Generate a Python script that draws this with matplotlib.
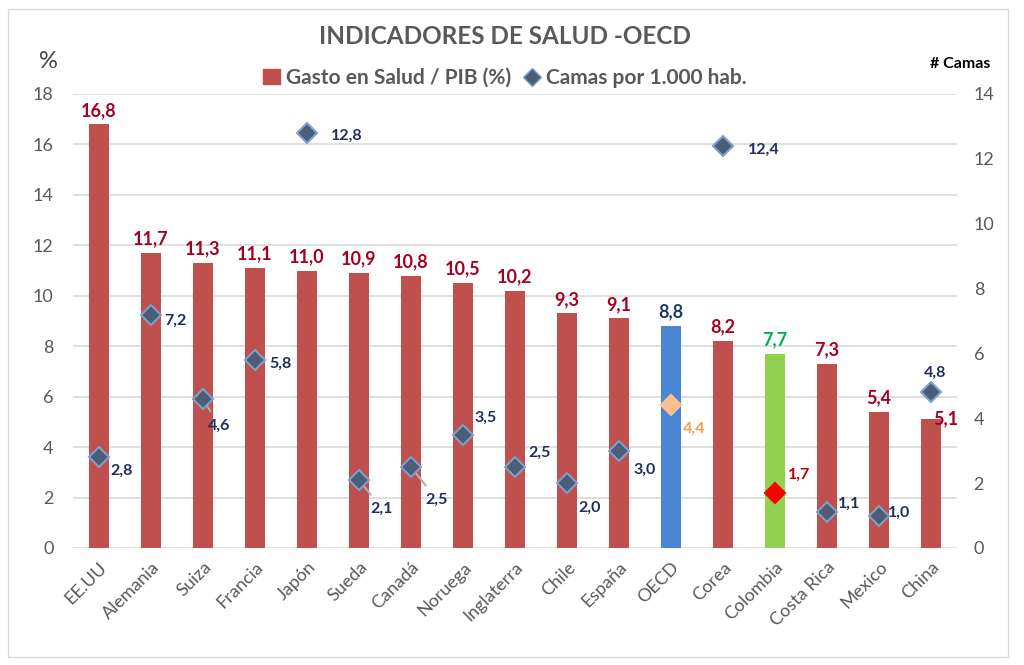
import matplotlib.pyplot as plt
from matplotlib.lines import Line2D
from matplotlib.patches import Rectangle, Patch

plt.rcParams['font.family'] = ['Lato', 'DejaVu Sans']

paises = ['EE.UU', 'Alemania', 'Suiza', 'Francia', 'Japón', 'Sueda', 'Canadá',
          'Noruega', 'Inglaterra', 'Chile', 'España', 'OECD', 'Corea',
          'Colombia', 'Costa Rica', 'Mexico', 'China']
gasto = [16.8, 11.7, 11.3, 11.1, 11.0, 10.9, 10.8, 10.5, 10.2, 9.3, 9.1,
         8.8, 8.2, 7.7, 7.3, 5.4, 5.1]
camas = [2.8, 7.2, 4.6, 5.8, 12.8, 2.1, 2.5, 3.5, 2.5, 2.0, 3.0,
         4.4, 12.4, 1.7, 1.1, 1.0, 4.8]

# colores por barra / diamante / etiqueta
rojo = '#C0504D'
bar_colors = [rojo] * len(paises)
bar_colors[11] = '#4A86D4'
bar_colors[13] = '#92D050'
bar_lbl_colors = ['#A50021'] * len(paises)
bar_lbl_colors[11] = '#1F3864'
bar_lbl_colors[13] = '#00B050'
dia_colors = ['#4A5E78'] * len(paises)
dia_colors[11] = '#FAC090'
dia_colors[13] = '#FF0000'
dia_edges = ['#7F9FC8'] * len(paises)
dia_edges[11] = '#FAC090'
dia_edges[13] = '#FF0000'
cam_lbl_colors = ['#1F2F5A'] * len(paises)
cam_lbl_colors[11] = '#F0A050'
cam_lbl_colors[13] = '#C00000'

# desplazamientos de etiquetas (px)
cam_off = [(23, -14), (24, -6), (16, -27), (25, -4), (40, -3), (23, -29),
           (26, -33), (23, 17), (25, 14), (23, -25), (26, -19), (23, -23),
           (41, -4), (24, 18), (22, 9), (20, 3), (4, 20)]
leader = [2, 5, 6]

fig = plt.figure(figsize=(10.24, 6.65), dpi=100)
fig.patches.append(Rectangle((8 / 1024, 8 / 665), 1000 / 1024, 648 / 665,
                             transform=fig.transFigure, fill=False,
                             edgecolor='#D9D9D9', linewidth=1))
ax = fig.add_axes([73 / 1024, 117 / 665, 884 / 1024, 454 / 665])
ax2 = ax.twinx()

x = list(range(len(paises)))
ax.bar(x, gasto, width=0.38, color=bar_colors, zorder=2)
ax.set_xlim(-0.5, len(paises) - 0.5)
ax.set_ylim(0, 18)
ax.set_yticks(range(0, 19, 2))
ax2.set_ylim(0, 14)
ax2.set_yticks(range(0, 15, 2))
ax.grid(axis='y', color='#D9D9D9', linewidth=1.2, zorder=0)
ax.set_axisbelow(True)
for a in (ax, ax2):
    for s in a.spines.values():
        s.set_visible(False)
    a.tick_params(length=0, labelsize=13, labelcolor='#595959')
ax.tick_params(axis='y', pad=14)
ax2.tick_params(axis='y', pad=12)
ax.set_xticks(x)
ax.set_xticklabels(paises, rotation=45, ha='right', rotation_mode='anchor',
                   fontsize=13, color='#595959')
ax.tick_params(axis='x', pad=8)

for i, v in enumerate(gasto):
    off = (15, 1) if i == len(gasto) - 1 else (0, 14)
    ax.annotate(f'{v:.1f}'.replace('.', ','), (i, v),
                xytext=(off[0] * 0.72, off[1] * 0.72), textcoords='offset points',
                ha='center', va='center', fontsize=13, fontweight='bold',
                color=bar_lbl_colors[i])

for i, v in enumerate(camas):
    ax2.plot(i, v, marker='D', markersize=10.5, color=dia_colors[i],
             markeredgecolor=dia_edges[i], markeredgewidth=1.5, zorder=4,
             linestyle='none')
    dx, dy = cam_off[i]
    props = None
    if i in leader:
        props = dict(arrowstyle='-', color='#B0B0B0', lw=1.5,
                     shrinkA=4, shrinkB=0)
    ax2.annotate(f'{v:.1f}'.replace('.', ','), (i, v),
                 xytext=(dx * 0.72, dy * 0.72), textcoords='offset points',
                 ha='center', va='center', fontsize=11.5, fontweight='bold',
                 color=cam_lbl_colors[i], arrowprops=props, zorder=3)

fig.text(505 / 1024, 1 - 37 / 665, 'INDICADORES DE SALUD -OECD', ha='center',
         va='center', fontsize=17.5, fontweight='bold', color='#595959')
fig.text(48 / 1024, 1 - 62 / 665, '%', ha='center', va='center',
         fontsize=17, color='#404040')
fig.text(960 / 1024, 1 - 64 / 665, '# Camas', ha='center', va='center',
         fontsize=11.5, fontweight='bold', color='black')

handles = [Patch(color=rojo),
           Line2D([], [], marker='D', linestyle='none', markersize=9,
                  color='#4A5E78', markeredgecolor='#7F9FC8')]
fig.legend(handles, ['Gasto en Salud / PIB (%)', 'Camas por 1.000 hab.'],
           loc='center', bbox_to_anchor=(505 / 1024, 1 - 78 / 665), ncol=2,
           frameon=False, handlelength=0.8, handletextpad=0.3,
           columnspacing=0.6, prop={'size': 15, 'weight': 'bold'},
           labelcolor='#595959')

fig.savefig('out.png', dpi=100)
